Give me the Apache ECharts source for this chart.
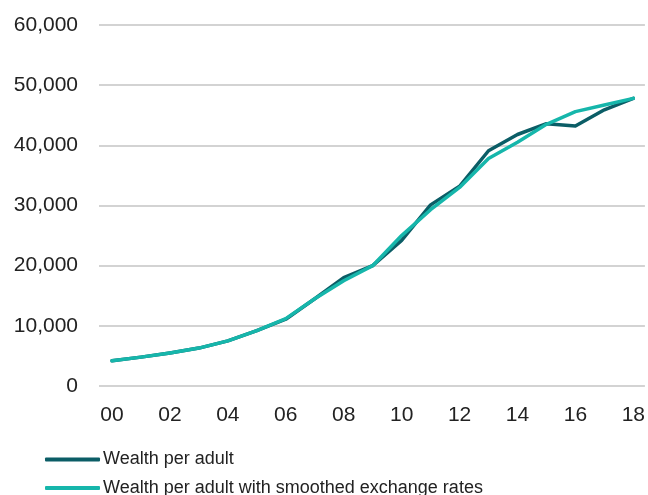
<!DOCTYPE html>
<html>
<head>
<meta charset="utf-8">
<script src="https://cdn.jsdelivr.net/npm/echarts@6/dist/echarts.min.js"></script>
<style>
html,body{margin:0;padding:0;background:#fff;}
#chart{width:648px;height:495px;}
</style>
</head>
<body>
<div id="chart"></div>
<script>
const years = ['00','01','02','03','04','05','06','07','08','09','10','11','12','13','14','15','16','17','18'];
const tickLabels = ['00','02','04','06','08','10','12','14','16','18'];
const wealthPerAdult = [4200, 4800, 5500, 6300, 7500, 9200, 11100, 14500, 18000, 20000, 24200, 30100, 33200, 39100, 41800, 43600, 43200, 45900, 47800];
const wealthSmoothed = [4200, 4800, 5500, 6300, 7500, 9200, 11200, 14500, 17500, 20000, 25000, 29300, 33000, 37800, 40500, 43500, 45600, 46700, 47800];
const seriesNames = ['Wealth per adult', 'Wealth per adult with smoothed exchange rates'];

const FONT = '"Liberation Sans", Arial, sans-serif';
const toPairs = arr => arr.map((v, i) => [i, v]);

const legendBase = {
  orient: 'vertical',
  left: 40,
  itemWidth: 55,
  itemHeight: 4,
  icon: 'roundRect',
  textStyle: {color: '#222', fontFamily: FONT, fontSize: 18, padding: [0,0,0,-2]}
};

const chart = echarts.init(document.getElementById('chart'), null, {renderer: 'canvas'});
chart.setOption({
  animation: false,
  backgroundColor: '#ffffff',
  grid: {left: 99, right: 0, top: 25, bottom: 109, containLabel: false},
  xAxis: {
    type: 'value',
    min: -0.45,
    max: 18.4,
    splitLine: {show: false},
    axisLine: {show: false},
    axisTick: {show: false},
    axisLabel: {
      customValues: tickLabels.map(t => years.indexOf(t)),
      formatter: v => years[Math.round(v)],
      color: '#222',
      fontFamily: FONT,
      fontSize: 21,
      margin: 19
    }
  },
  yAxis: {
    type: 'value',
    min: 0,
    max: 60000,
    interval: 10000,
    axisLine: {show: false},
    axisTick: {show: false},
    splitLine: {lineStyle: {color: '#c4c4c4', width: 1.5}},
    axisLabel: {
      formatter: v => v.toLocaleString('en-US'),
      color: '#222',
      fontFamily: FONT,
      fontSize: 21,
      margin: 21
    }
  },
  legend: [
    Object.assign({}, legendBase, {top: 445.5, data: [seriesNames[0]]}),
    Object.assign({}, legendBase, {top: 474, data: [seriesNames[1]]})
  ],
  series: [
    {
      name: seriesNames[0],
      type: 'line',
      data: toPairs(wealthPerAdult),
      symbol: 'none',
      lineStyle: {color: '#0b5d66', width: 3.5, cap: 'round', join: 'round'},
      itemStyle: {color: '#0b5d66'},
      z: 2
    },
    {
      name: seriesNames[1],
      type: 'line',
      data: toPairs(wealthSmoothed),
      symbol: 'none',
      lineStyle: {color: '#16b6ab', width: 3.5, cap: 'round', join: 'round'},
      itemStyle: {color: '#16b6ab'},
      z: 3
    }
  ]
});
</script>
</body>
</html>
